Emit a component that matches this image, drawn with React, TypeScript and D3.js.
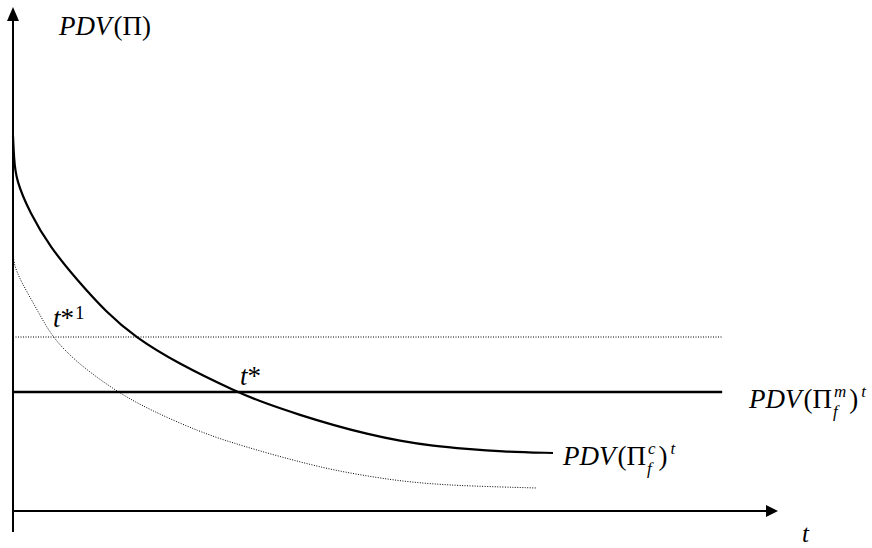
import React from "react";
import * as d3 from "d3";

// Solid curve: PDV(Π_f^c)^t  (t, value)
const solidT = [0, 0.13, 0.39, 2.22, 4.84, 8.37, 12.29, 15.95, 21.44, 29.28, 33.2, 37.52, 41.83, 46.27, 50.59, 54.9, 59.35, 63.66, 70.59];
const solidV = [75, 70.6, 66.2, 59.6, 52.8, 46.2, 39.6, 34.8, 29.6, 23.8, 21.4, 19.2, 17.2, 15.4, 14.0, 13.0, 12.4, 11.9, 11.6];

// Dotted curve (lower alternative)
const dotT = [0, 0.04, 0.92, 3.4, 5.1, 8.37, 13.6, 17.9, 24.44, 28.76, 33.2, 37.52, 41.83, 46.27, 50.59, 54.9, 59.35, 68.5];
const dotV = [52.8, 49.6, 46.2, 39.6, 34.8, 29.6, 23.8, 20.2, 15.8, 13.6, 11.6, 9.8, 8.2, 7.0, 6.0, 5.4, 5.0, 4.6];

// Horizontal levels: PDV(Π_f^m)^t (solid) and the alternative (dotted)
const levelT = [0, 92.7];
const solidLevel = 23.8;
const dottedLevel = 34.8;

// Axis extents (data units)
const xAxisEnd = 100;
const yAxisTop = 100.4;
const yAxisBottom = -4.2;

const W = 872;
const H = 548;
const FONT = "'Liberation Serif', 'Times New Roman', Times, serif";

export default function App() {
  const x = d3.scaleLinear().domain([0, 100]).range([13, 778]);
  const y = d3.scaleLinear().domain([0, 100]).range([511, 11]);

  const line = d3
    .line<[number, number]>()
    .x((d) => x(d[0]))
    .y((d) => y(d[1]))
    .curve(d3.curveBasis);

  const solidPts = solidT.map((t, i) => [t, solidV[i]] as [number, number]);
  const dotPts = dotT.map((t, i) => [t, dotV[i]] as [number, number]);

  const x0 = x(0);
  const xEnd = x(xAxisEnd);
  const y0 = y(0);
  const yTop = y(yAxisTop);
  const arrow = 12;
  const half = 6;

  const big = 27;
  const small = 17;

  const Label = ({ lx, ly, sup, sub }: { lx: number; ly: number; sup: string; sub: string }) => {
    const supW = sup === "m" ? 0.722 * small : 0.444 * small;
    const subW = 0.278 * small;
    return (
      <text x={lx} y={ly} fontFamily={FONT} fontSize={big} fill="#000">
        <tspan fontStyle="italic">PDV</tspan>
        <tspan dx={2}>(Π</tspan>
        <tspan fontStyle="italic" fontSize={small} dx={2} dy={-11}>
          {sup}
        </tspan>
        <tspan fontStyle="italic" fontSize={small} dx={-supW - 1} dy={20}>
          {sub}
        </tspan>
        <tspan dx={supW - subW + 4} dy={-9}>)</tspan>
        <tspan fontStyle="italic" fontSize={small} dx={3} dy={-11}>
          t
        </tspan>
      </text>
    );
  };

  return (
    <svg
      width={W}
      height={H}
      style={{ position: "absolute", left: 0, top: 0, background: "#fff" }}
    >
      <rect width={W} height={H} fill="#fff" />
      {/* y axis */}
      <line x1={x0} x2={x0} y1={y(yAxisBottom)} y2={yTop + arrow} stroke="#000" strokeWidth={2} />
      <polygon
        points={`${x0},${yTop - 2} ${x0 - half},${yTop + arrow} ${x0 + half},${yTop + arrow}`}
        fill="#000"
      />
      {/* x axis */}
      <line x1={x0} x2={xEnd - arrow} y1={y0} y2={y0} stroke="#000" strokeWidth={2} />
      <polygon
        points={`${xEnd},${y0} ${xEnd - arrow},${y0 - half} ${xEnd - arrow},${y0 + half}`}
        fill="#000"
      />

      {/* dotted horizontal level */}
      <line
        x1={x(levelT[0])}
        x2={x(levelT[1])}
        y1={y(dottedLevel)}
        y2={y(dottedLevel)}
        stroke="#000"
        strokeWidth={1}
        strokeDasharray="1 1.5"
      />
      {/* solid horizontal level */}
      <line
        x1={x(levelT[0])}
        x2={x(levelT[1])}
        y1={y(solidLevel)}
        y2={y(solidLevel)}
        stroke="#000"
        strokeWidth={2.6}
      />
      {/* dotted curve */}
      <path d={line(dotPts) || ""} fill="none" stroke="#000" strokeWidth={1} strokeDasharray="1 1.5" />
      {/* solid curve */}
      <path d={line(solidPts) || ""} fill="none" stroke="#000" strokeWidth={2.2} />

      {/* labels */}
      <text x={59} y={35} fontFamily={FONT} fontSize={big}>
        <tspan fontStyle="italic">PDV</tspan>
        <tspan dx={2}>(Π)</tspan>
      </text>
      <text x={53} y={327} fontFamily={FONT} fontSize={big}>
        <tspan fontStyle="italic">t</tspan>
        <tspan>*</tspan>
        <tspan fontSize={small + 2} dx={1} dy={-8}>1</tspan>
      </text>
      <text x={240} y={385} fontFamily={FONT} fontSize={big}>
        <tspan fontStyle="italic">t</tspan>
        <tspan>*</tspan>
      </text>
      <Label lx={749} ly={408} sup="m" sub="f" />
      <Label lx={563} ly={465} sup="c" sub="f" />
      <text x={802} y={542} fontFamily={FONT} fontSize={big - 2} fontStyle="italic">
        t
      </text>
    </svg>
  );
}
